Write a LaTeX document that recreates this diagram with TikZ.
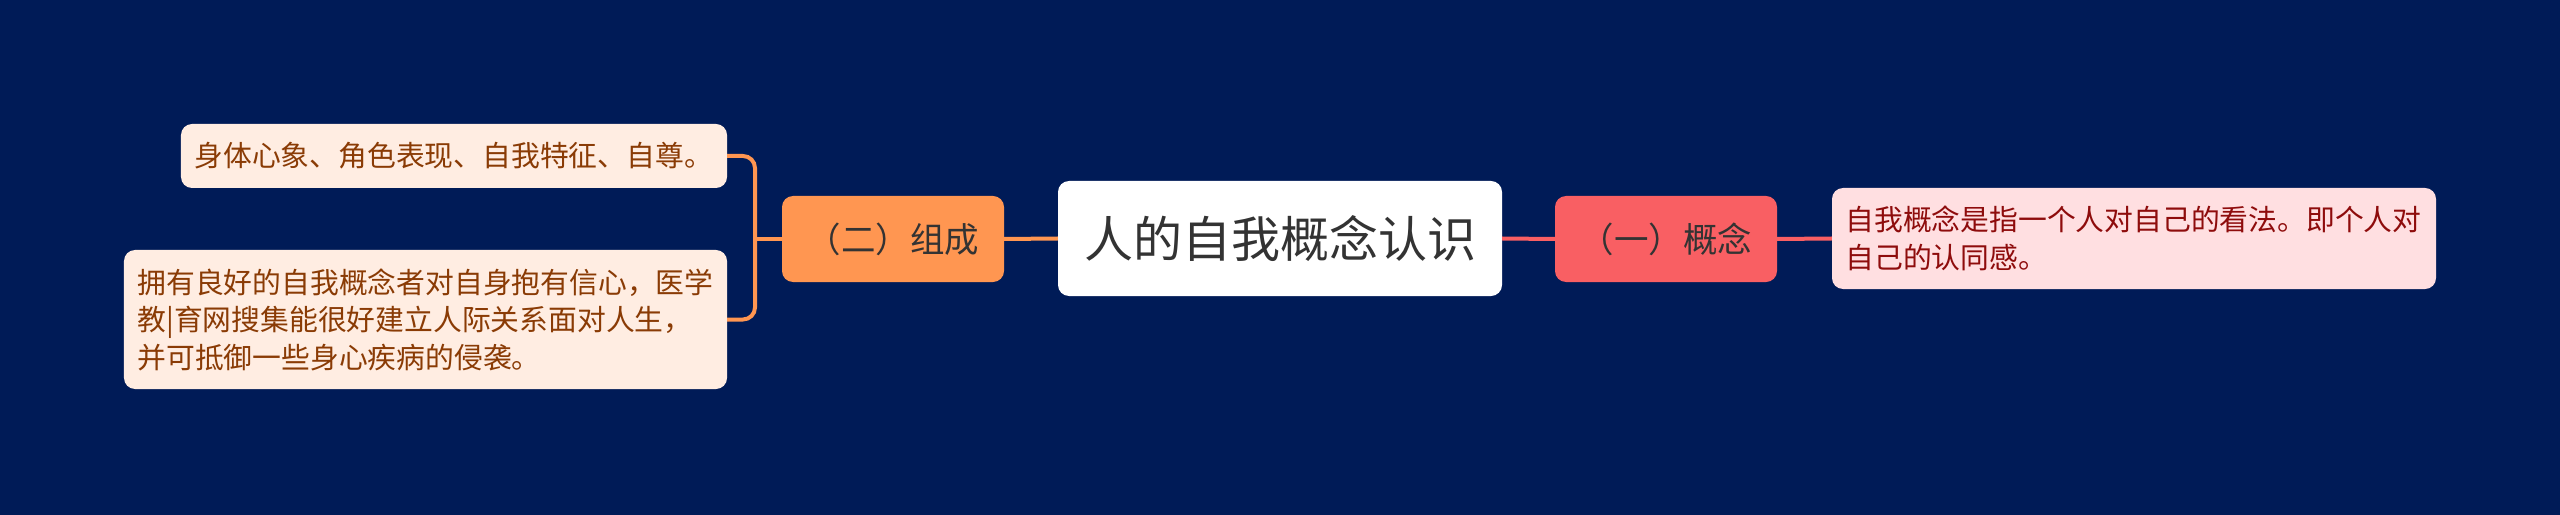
\documentclass[tikz,border=0pt]{standalone}
\usepackage{fontspec}
\setmainfont{Noto Sans CJK SC}
\definecolor{bg}{HTML}{001B57}
\definecolor{orng}{HTML}{FF9651}
\definecolor{rd}{HTML}{F95F63}
\definecolor{oleaf}{HTML}{FFEDE2}
\definecolor{otext}{HTML}{8A3B05}
\definecolor{rleaf}{HTML}{FFDFE1}
\definecolor{rtext}{HTML}{8E0C0C}
\definecolor{dark}{HTML}{333333}
\begin{document}
\begin{tikzpicture}[x=1bp,y=-1bp,
  box/.style={rounded corners=11bp, inner sep=0pt, align=center},
  rootbox/.style={box, fill=white, text=dark, minimum width=444bp, minimum height=115bp,
    font=\fontsize{49bp}{58bp}\selectfont},
  mainbox/.style={box, minimum width=222bp, minimum height=86bp,
    font=\fontsize{34.5bp}{40bp}\selectfont, text=dark},
  leafbox/.style={box, align=left, inner xsep=13.5bp, inner ysep=0pt,
    font=\fontsize{28.8bp}{37.5bp}\selectfont},
  oline/.style={draw=orng, line width=4bp},
  rline/.style={draw=rd, line width=4bp}]
\fill[bg] (0,0) rectangle (2560,515);
\useasboundingbox (0,0) rectangle (2560,515);

\node[rootbox] (root) at (1280,238.5) {人的自我概念认识};
\node[mainbox, fill=orng] (zc) at (893,239) {（二）组成};
\node[mainbox, fill=rd] (gn) at (1666,239) {（一）概念};

\node[leafbox, fill=oleaf, text=otext, minimum width=546bp, minimum height=64bp, text width=519bp] (l1) at (454,156)
  {身体心象、角色表现、自我特征、自尊。};
\node[leafbox, fill=oleaf, text=otext, minimum height=139bp, text width=576bp] (l2) at (425.5,319.5)
  {拥有良好的自我概念者对自身抱有信心，医学\\教|育网搜集能很好建立人际关系面对人生，\\并可抵御一些身心疾病的侵袭。};
\node[leafbox, fill=rleaf, text=rtext, minimum height=101bp, text width=577bp] (r1) at (2134,238.5)
  {自我概念是指一个人对自己的看法。即个人对\\自己的认同感。};

\coordinate (bx) at (755,239);
\draw[oline] (root.west) -- (zc.east);
\draw[oline] (zc.west) -- (bx);
\draw[oline, rounded corners=12bp] (l1.east) -| (bx) |- (l2.east);
\draw[rline] (root.east) -- (gn.west);
\draw[rline] (gn.east) -- (r1.west);
\end{tikzpicture}
\end{document}
